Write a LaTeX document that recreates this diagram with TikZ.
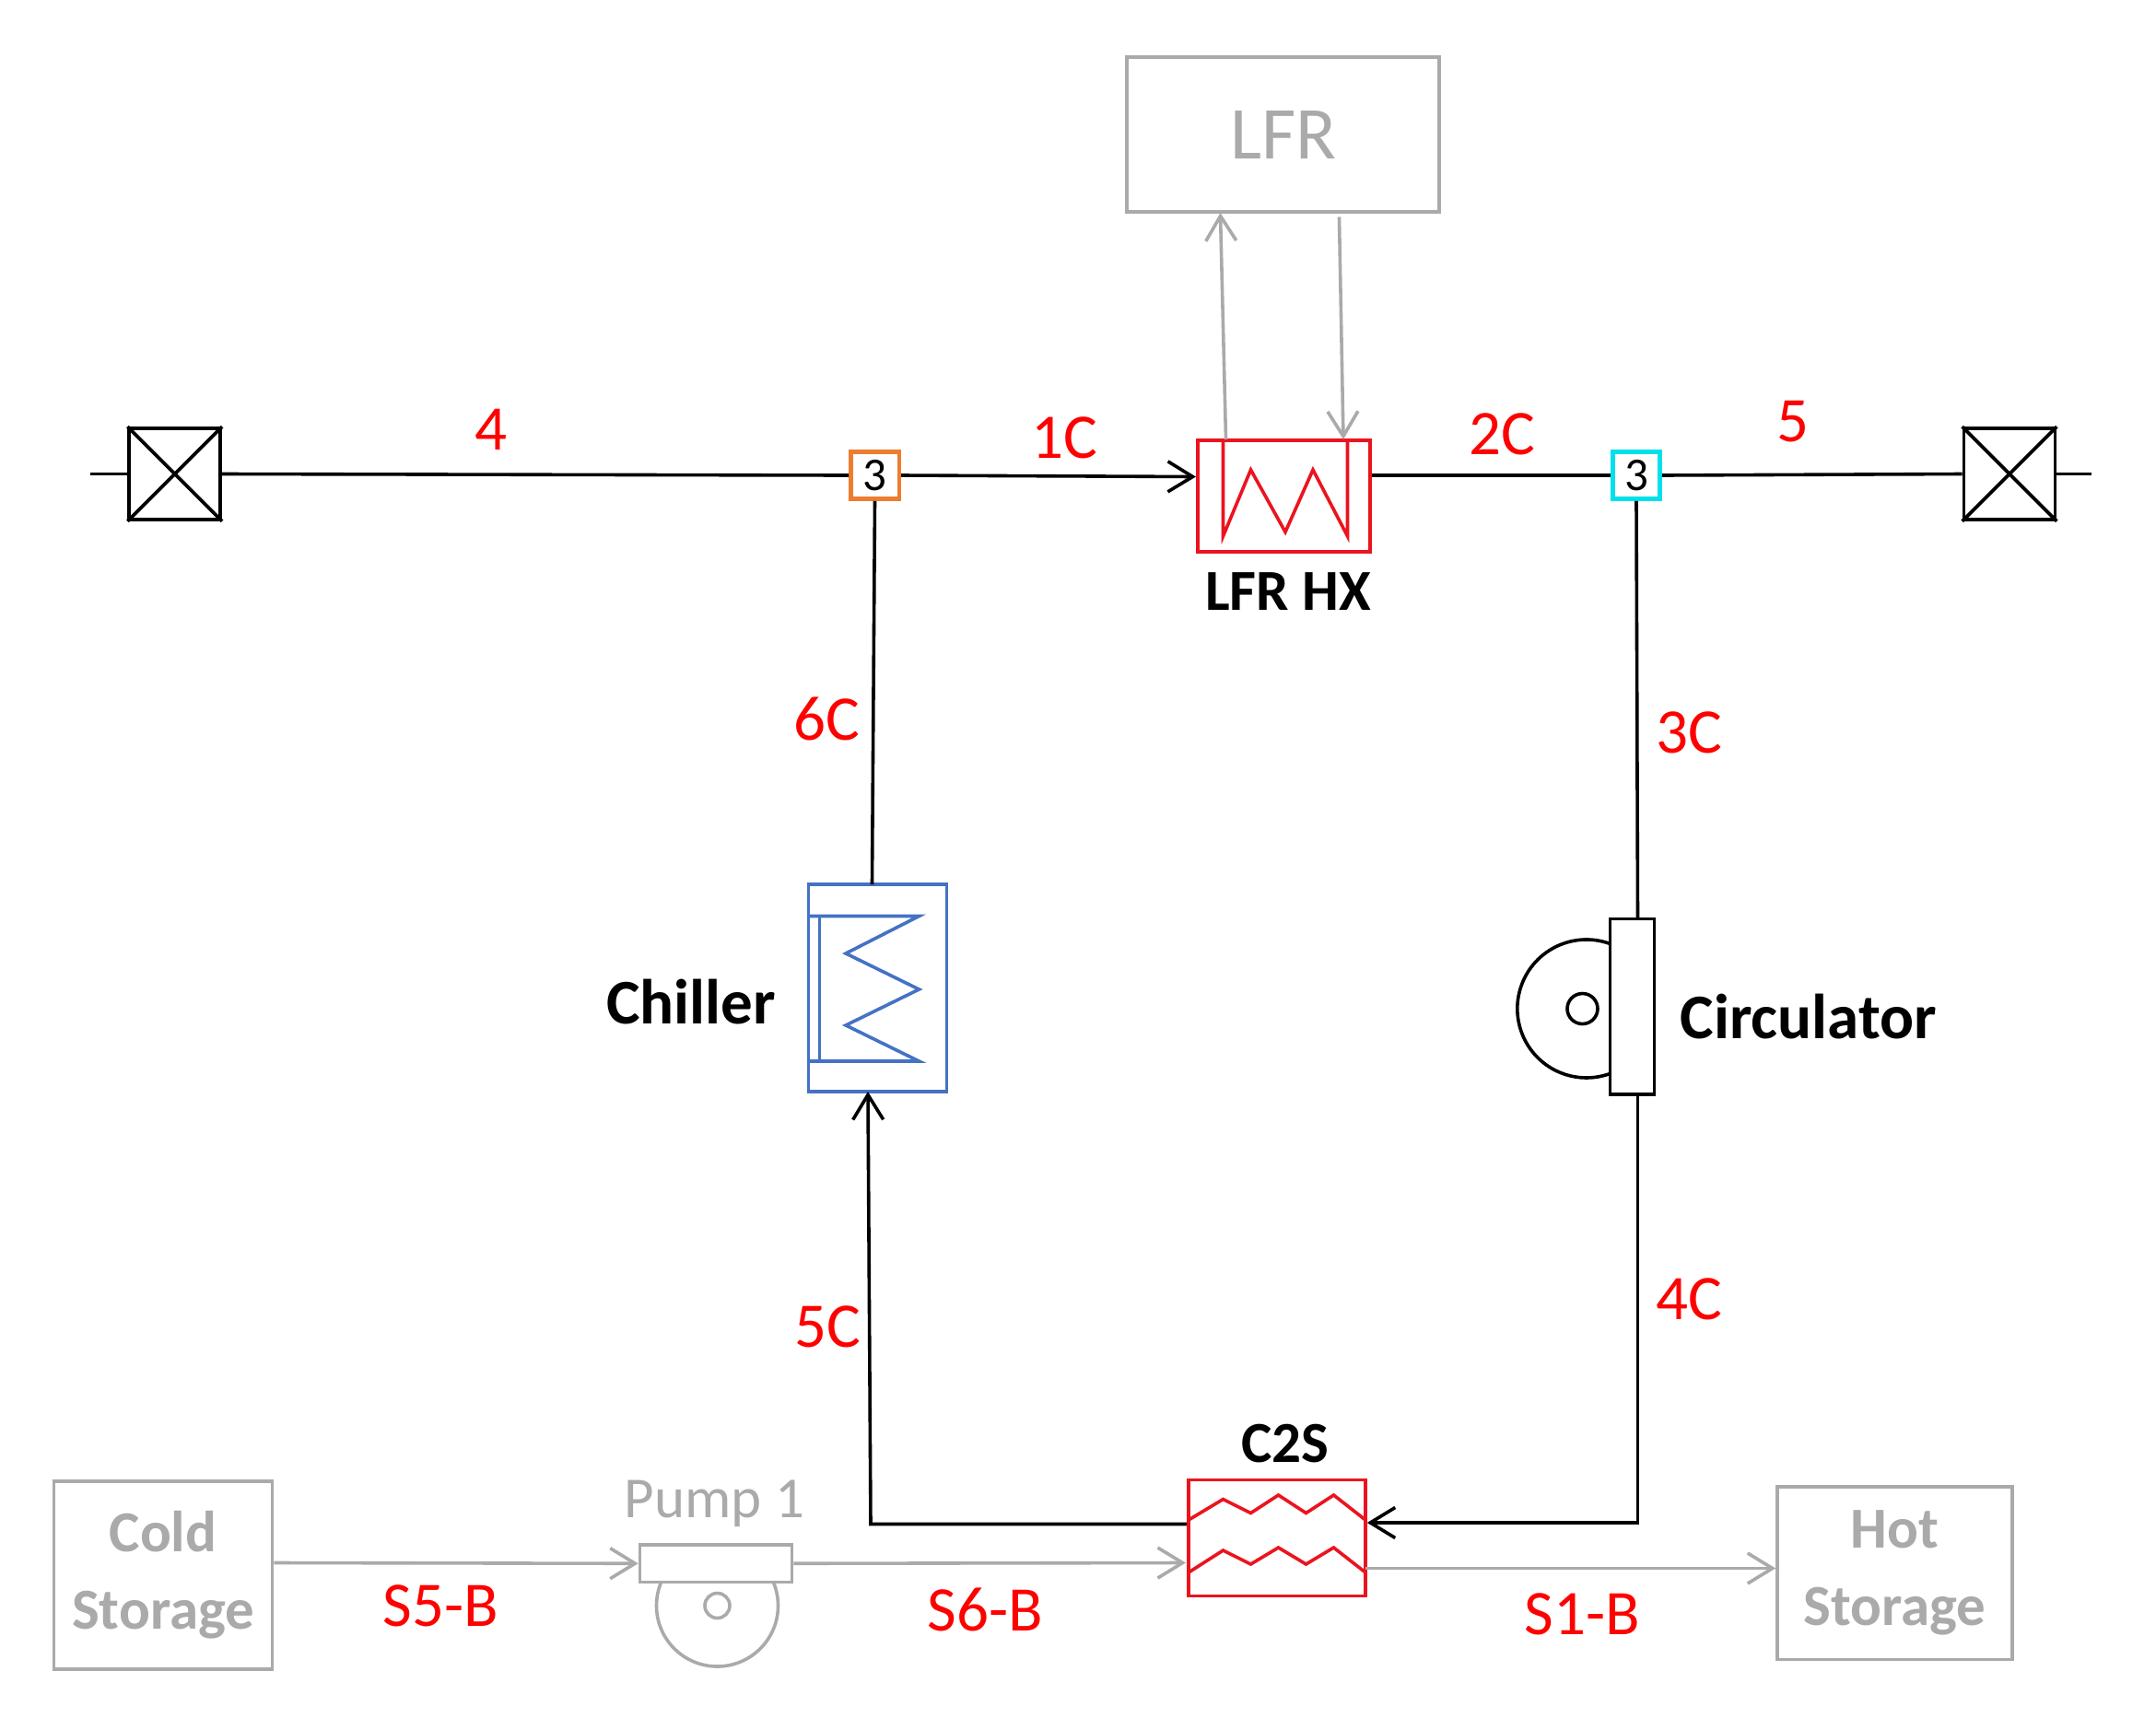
\documentclass[tikz,border=0pt]{standalone}
\usepackage{fontspec}
\setmainfont{Carlito}
\usetikzlibrary{arrows.meta}
\definecolor{gr}{RGB}{170,170,170}
\definecolor{rd}{RGB}{235,20,30}
\definecolor{bl}{RGB}{68,114,196}
\definecolor{org}{RGB}{237,125,49}
\definecolor{cy}{RGB}{0,225,235}
\begin{document}
\begin{tikzpicture}[x=0.5pt,y=-0.5pt,
 line width=1.2pt,
 lbl/.style={text=red,font=\fontsize{23}{26}\selectfont},
 bld/.style={font=\bfseries\fontsize{21}{24}\selectfont},
 box/.style={draw,inner sep=0,minimum width=#1},
 arr/.style={-{Straight Barb[length=9pt,width=11pt]}},
 g/.style={draw=gr,text=gr}]
\useasboundingbox (0,0) rectangle (1560,1243);
% valves
\node[box=33pt,minimum height=33pt] (vl) at (126.5,343) {};
\draw (vl.north west)--(vl.south east) (vl.north east)--(vl.south west);
\node[box=33pt,minimum height=33pt] (vr) at (1454,343) {};
\draw (vr.north west)--(vr.south east) (vr.north east)--(vr.south west);
\coordinate (el) at (65,343); \coordinate (er) at (1513,343);
% mixers
\node[box=17.5pt,minimum height=17pt,draw=org,line width=1.5pt,font=\fontsize{17}{18}\selectfont] (m1) at (633,344) {3};
\node[box=17pt,minimum height=17pt,draw=cy,line width=1.5pt,font=\fontsize{17}{18}\selectfont] (m2) at (1184,344) {3};
% LFR HX
\node[box=62.5pt,minimum height=40.5pt,draw=rd] (hx) at (929,359) {};
\draw[rd] (885,320)--(885,388)--(905,340)--(930,385)--(950,340)--(975,388)--(975,320);
\node[bld] (hxl) at (932,428) {LFR HX};
% LFR
\node[box=113pt,minimum height=56pt,g,font=\fontsize{27}{30}\selectfont] (lfr) at (928.5,97.5) {LFR};
\draw[gr,arr] (887,318)--(883,154);
\draw[gr,arr] (969,157)--(972,318);
% chiller
\node[box=50pt,minimum height=75pt,draw=bl] (ch) at (635,715) {};
\draw[bl] (585,663)--(665,663)--(612,690)--(665,716)--(612,742)--(665,768)--(585,768);
\draw[bl] (593,663)--(593,768);
\node[font=\bfseries\fontsize{23}{26}\selectfont] at (500,725) {Chiller};
% circulator
\draw (1165,683) arc[start angle=-70,end angle=-290,radius=50];
\node[box=16pt,minimum height=63.5pt,fill=white] (cr) at (1181,728.5) {};
\node[draw,circle,minimum size=11pt,inner sep=0] at (1145,730) {};
\node[font=\bfseries\fontsize{23}{26}\selectfont,anchor=west] at (1208,736) {Circulator};
% C2S
\node[box=64pt,minimum height=42pt,draw=rd] (c2) at (924,1113) {};
\draw[rd] (860,1100)--(885,1085)--(905,1095)--(925,1082)--(945,1095)--(965,1082)--(988,1100);
\draw[rd] (860,1138)--(885,1122)--(905,1132)--(925,1120)--(945,1132)--(965,1120)--(988,1138);
\node[bld] at (930,1045) {C2S};
% main loop
\draw (el)--(vl.west); \draw (vl.east)--(m1.west);
\draw[arr] (m1.east)--(hx.west|-0,345);
\draw (hx.east|-m2)--(m2.west); \draw (m2.east)--(vr.west); \draw (vr.east)--(er);
\draw (m1.south)--(631,640);
\draw[arr] (c2.west|-0,1103)--(630,1103)--(628,790);
\draw (m2.south)--(1185,665);
\draw[arr] (1185,792)--(1185,1102)--(c2.east|-0,1102);
% labels
\node[lbl] at (355,311) {4};
\node[lbl] at (770,317) {1C};
\node[lbl] at (1087,314) {2C};
\node[lbl] at (1297,305) {5};
\node[lbl] at (598,520) {6C};
\node[lbl] at (1222,530) {3C};
\node[lbl] at (599,960) {5C};
\node[lbl] at (1222,940) {4C};
\node[lbl] at (319,1162) {S5-B};
\node[lbl] at (713,1165) {S6-B};
\node[lbl] at (1145,1168) {S1-B};
% grey storage / pump
\begin{scope}[gr, line width=1.2pt]
\node[box=79pt,minimum height=68pt,g,align=center,font=\bfseries\fontsize{21}{28}\selectfont] (cs) at (118,1140) {Cold\\Storage};
\node[box=85pt,minimum height=62.5pt,g,align=center,font=\bfseries\fontsize{21}{28}\selectfont] (hs) at (1371,1138.5) {Hot\\Storage};
\node[draw=gr,circle,minimum size=44pt,inner sep=0] (pc) at (519,1162) {};
\node[draw=gr,fill=white,box=55pt,minimum height=13.5pt] (pt) at (518,1131.5) {};
\node[draw=gr,circle,minimum size=9pt,inner sep=0] at (519,1162) {};
\node[text=gr,font=\fontsize{21}{24}\selectfont] at (517,1088) {Pump 1};
\draw[arr] (cs.east|-0,1131)--(pt.west);
\draw[arr] (pt.east)--(858,1131);
\draw[arr] (988,1135)--(hs.west|-0,1135);
\end{scope}
\end{tikzpicture}
\end{document}
